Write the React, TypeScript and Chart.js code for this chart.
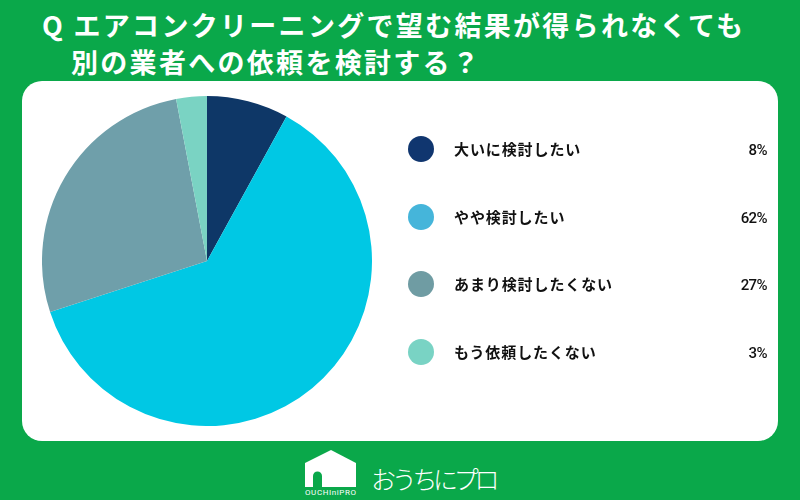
import { useEffect, useRef } from "react"
import { Chart, registerables } from "chart.js"

Chart.register(...registerables)

const categories = ["大いに検討したい", "やや検討したい", "あまり検討したくない", "もう依頼したくない"]
const values = [8, 62, 27, 3]
const sliceColors = ["#0e3767", "#00c8e4", "#6f9faa", "#7ad3c3"]
const dotColors = ["#10366f", "#45b5da", "#6f9ca3", "#79d3c4"]
const titleLines = ["Q エアコンクリーニングで望む結果が得られなくても", "別の業者への依頼を検討する？"]

const GREEN = "#0aa84a"
const JP_FONT = '"Noto Sans CJK JP", sans-serif'

export default function App() {
  const canvasRef = useRef<HTMLCanvasElement>(null)

  useEffect(() => {
    document.body.style.margin = "0"
    if (!canvasRef.current) return

    const chart = new Chart(canvasRef.current, {
      type: "pie",
      data: {
        labels: categories,
        datasets: [
          {
            data: values,
            backgroundColor: sliceColors,
            borderWidth: 0,
          },
        ],
      },
      options: {
        animation: false,
        responsive: false,
        devicePixelRatio: 1,
        layout: { padding: 0 },
        plugins: {
          legend: { display: false },
          tooltip: { enabled: false },
        },
      },
    })

    return () => {
      chart.destroy()
    }
  }, [])

  return (
    <div style={{ position: "relative", width: 800, height: 500, background: GREEN, overflow: "hidden", fontFamily: JP_FONT }}>
      {titleLines.map((line, i) => (
        <div
          key={line}
          style={{
            position: "absolute",
            left: i === 0 ? 42 : 71,
            top: i === 0 ? 6 : 43,
            height: 38,
            lineHeight: "38px",
            color: "#fff",
            fontSize: 27,
            fontWeight: 700,
            letterSpacing: 2.3,
            whiteSpace: "nowrap",
          }}
        >
          {line}
        </div>
      ))}

      <div style={{ position: "absolute", left: 22, top: 81, width: 756, height: 360, background: "#fff", borderRadius: 20 }} />

      <canvas
        ref={canvasRef}
        width={330}
        height={330}
        style={{ position: "absolute", left: 42, top: 96, width: 330, height: 330 }}
      />

      {categories.map((name, i) => (
        <div key={name} style={{ position: "absolute", left: 0, top: 149 + i * 67.5 - 15, width: 800, height: 30 }}>
          <div style={{ position: "absolute", left: 408, top: 2, width: 26, height: 26, borderRadius: "50%", background: dotColors[i] }} />
          <div
            style={{
              position: "absolute",
              left: 454,
              top: 0,
              lineHeight: "30px",
              fontSize: 15,
              fontWeight: 700,
              letterSpacing: 0.9,
              color: "#111",
              whiteSpace: "nowrap",
            }}
          >
            {name}
          </div>
          <div
            style={{
              position: "absolute",
              right: 33,
              top: 1,
              lineHeight: "30px",
              fontSize: 15,
              fontWeight: 500,
              letterSpacing: -0.6,
              fontFamily: "Roboto, sans-serif",
              color: "#111",
            }}
          >
            {values[i]}%
          </div>
        </div>
      ))}

      <svg width={60} height={50} style={{ position: "absolute", left: 300, top: 448 }}>
        <path d="M5 15 L31 2 L56 15 L56 39 L5 39 Z" fill="#fff" />
        <path d="M13 39 L13 28 A4.5 4.5 0 0 1 22 28 L22 39 Z" fill={GREEN} />
        <text x={5} y={47} fontSize={8} fontFamily="Roboto, sans-serif" fontWeight={400} fill="#fff" textLength={51}>
          OUCHIniPRO
        </text>
      </svg>
      <div
        style={{
          position: "absolute",
          left: 371,
          top: 458,
          lineHeight: "40px",
          fontSize: 25,
          fontWeight: 300,
          letterSpacing: -4.3,
          color: "#fff",
          whiteSpace: "nowrap",
        }}
      >
        おうちにプロ
      </div>
    </div>
  )
}
